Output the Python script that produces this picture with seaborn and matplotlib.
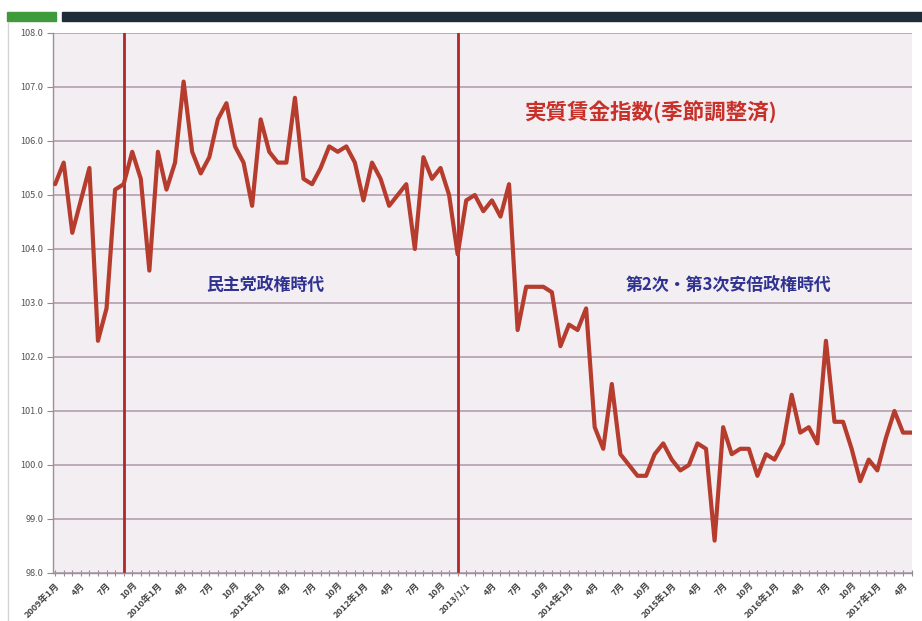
import matplotlib
matplotlib.use("Agg")
import matplotlib.pyplot as plt
from matplotlib.patches import Rectangle
from matplotlib.lines import Line2D
import seaborn as sns
import pandas as pd
import numpy as np

# Monthly real wage index (seasonally adjusted), Jan 2009 - May 2017
wage_index = [
    105.2, 105.6, 104.3, 104.9, 105.5, 102.3, 102.9, 105.1, 105.2, 105.8, 105.3, 103.6,
    105.8, 105.1, 105.6, 107.1, 105.8, 105.4, 105.7, 106.4, 106.7, 105.9, 105.6, 104.8,
    106.4, 105.8, 105.6, 105.6, 106.8, 105.3, 105.2, 105.5, 105.9, 105.8, 105.9, 105.6,
    104.9, 105.6, 105.3, 104.8, 105.0, 105.2, 104.0, 105.7, 105.3, 105.5, 105.0, 103.9,
    104.9, 105.0, 104.7, 104.9, 104.6, 105.2, 102.5, 103.3, 103.3, 103.3, 103.2, 102.2,
    102.6, 102.5, 102.9, 100.7, 100.3, 101.5, 100.2, 100.0, 99.8, 99.8, 100.2, 100.4,
    100.1, 99.9, 100.0, 100.4, 100.3, 98.6, 100.7, 100.2, 100.3, 100.3, 99.8, 100.2,
    100.1, 100.4, 101.3, 100.6, 100.7, 100.4, 102.3, 100.8, 100.8, 100.3, 99.7, 100.1,
    99.9, 100.5, 101.0, 100.6, 100.6,
]

# Category tick labels, one every three months
tick_labels = [
    "2009年1月", "4月", "7月", "10月",
    "2010年1月", "4月", "7月", "10月",
    "2011年1月", "4月", "7月", "10月",
    "2012年1月", "4月", "7月", "10月",
    "2013/1/1", "4月", "7月", "10月",
    "2014年1月", "4月", "7月", "10月",
    "2015年1月", "4月", "7月", "10月",
    "2016年1月", "4月", "7月", "10月",
    "2017年1月", "4月",
]

# Months (index) where each government took office
government_starts = [8, 47]
period_labels = ["民主党政権時代", "第2次・第3次安倍政権時代"]
chart_title = "実質賃金指数(季節調整済)"

sns.set_theme(style="white")
plt.rcParams["font.family"] = ["Noto Sans CJK JP", "DejaVu Sans"]

df = pd.DataFrame({"month": np.arange(len(wage_index)), "index": wage_index})

fig = plt.figure(figsize=(9.22, 6.21), dpi=100)
fig.patch.set_facecolor("white")
ax = fig.add_axes([53 / 922, 1 - 573 / 621, (912 - 53) / 922, (573 - 33) / 621])
ax.set_facecolor("#f3eef2")

# horizontal gridlines
ax.set_ylim(98, 108)
ax.set_yticks(np.arange(98, 108.01, 1.0))
ax.yaxis.grid(True, color="#ae98aa", linewidth=1.1)
ax.xaxis.grid(False)
ax.set_axisbelow(True)

for m in government_starts:
    ax.axvline(m, color="#b3262a", linewidth=2.0, zorder=2)

sns.lineplot(data=df, x="month", y="index", ax=ax, color="#b63c2e",
             linewidth=3.0, zorder=3, legend=False)

ax.set_xlim(-0.25, len(wage_index) - 1 + 0.05)
ax.set_xticks(np.arange(0, len(wage_index), 3))
ax.set_xticklabels(tick_labels, rotation=45, ha="right", rotation_mode="anchor",
                   fontsize=6.6, color="#444444", fontweight="bold")
ax.set_xticks(np.arange(0, len(wage_index), 1), minor=True)
ax.tick_params(axis="x", which="both", direction="inout", length=5, width=0.8,
               color="#958797", pad=3, bottom=True)
ax.set_yticklabels([f"{v:.1f}" for v in np.arange(98, 108.01, 1.0)],
                   fontsize=6.6, color="#555555")
ax.tick_params(axis="y", direction="out", length=4, width=0.8, color="#958797",
               pad=3, left=True)
ax.set_xlabel("")
ax.set_ylabel("")

for side in ["top", "right"]:
    ax.spines[side].set_visible(False)
for side in ["left", "bottom"]:
    ax.spines[side].set_color("#9c8f9c")
    ax.spines[side].set_linewidth(1.0)

ax.text(69.5, 106.52, chart_title, color="#c8302a", fontsize=15.5,
        fontweight="bold", ha="center", va="center")
ax.text(24.5, 103.33, period_labels[0], color="#2f3290", fontsize=12.2,
        fontweight="bold", ha="center", va="center")
ax.text(78.6, 103.33, period_labels[1], color="#2f3290", fontsize=12.2,
        fontweight="bold", ha="center", va="center")

# slide header bars and left frame line
fig.patches.append(Rectangle((7 / 922, 1 - 21 / 621), 49 / 922, 9 / 621,
                             transform=fig.transFigure, color="#3f9a3c", zorder=0))
fig.patches.append(Rectangle((62 / 922, 1 - 21 / 621), 860 / 922, 9 / 621,
                             transform=fig.transFigure, color="#1f2d38", zorder=0))
fig.lines.append(Line2D([8 / 922, 8 / 922], [0, 1 - 22 / 621],
                        transform=fig.transFigure, color="#d4d4d8", linewidth=1.0))

fig.savefig("out.png", dpi=100, facecolor="white")
